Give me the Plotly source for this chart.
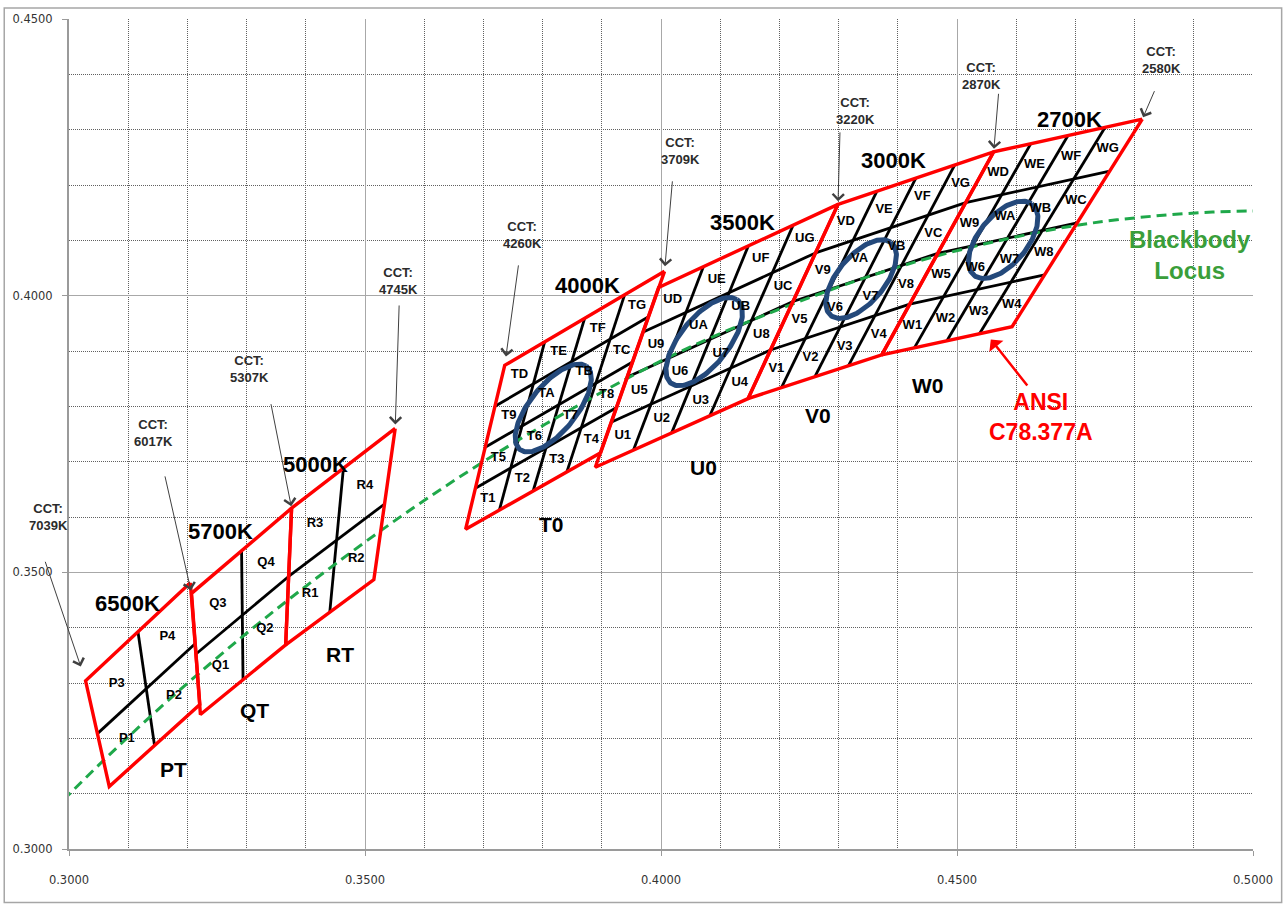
import numpy as np
import plotly.graph_objects as go

# ANSI C78.377A nominal CCT quadrangles, corners in order TR, TL, BL, BR
QUAD_CCT = ["2700K", "3000K", "3500K", "4000K", "5000K", "5700K", "6500K"]
QUAD_GROUP = ["W0", "V0", "U0", "T0", "RT", "QT", "PT"]
QUAD_PREFIX = ["W", "V", "U", "T", "R", "Q", "P"]
QUAD_X = [
    [0.4813, 0.4562, 0.4373, 0.4593],
    [0.4562, 0.4299, 0.4147, 0.4373],
    [0.4299, 0.3996, 0.3889, 0.4147],
    [0.4006, 0.3736, 0.3670, 0.3898],
    [0.3551, 0.3376, 0.3366, 0.3515],
    [0.3376, 0.3207, 0.3222, 0.3366],
    [0.3205, 0.3028, 0.3068, 0.3221],
]
QUAD_Y = [
    [0.4319, 0.4260, 0.3893, 0.3944],
    [0.4260, 0.4165, 0.3814, 0.3893],
    [0.4165, 0.4015, 0.3690, 0.3814],
    [0.4044, 0.3874, 0.3578, 0.3716],
    [0.3760, 0.3616, 0.3369, 0.3487],
    [0.3616, 0.3462, 0.3243, 0.3369],
    [0.3481, 0.3304, 0.3113, 0.3261],
]
QUAD_DIV = [4, 4, 4, 4, 2, 2, 2]
BIN_CODES = {
    4: ["1", "2", "3", "4", "5", "6", "7", "8", "9", "A", "B", "C", "D", "E", "F", "G"],
    2: ["1", "2", "3", "4"],
}

# 1-step MacAdam ellipses at the ANSI centre points
ELL_CCT = ["2700K", "3000K", "3500K", "4000K"]
ELL_X = [0.4578, 0.4338, 0.4073, 0.3818]
ELL_Y = [0.4101, 0.4030, 0.3917, 0.3797]
ELL_A = [0.00270, 0.00278, 0.00313, 0.00313]
ELL_B = [0.00140, 0.00136, 0.00139, 0.00134]
ELL_THETA = [53.70, 53.22, 54.00, 53.72]
MACADAM_STEPS = 3

# Planckian (blackbody) locus, CIE 1931 xy
LOCUS_CCT = [8000, 7500, 7000, 6500, 6000, 5500, 5000, 4500, 4000, 3500, 3000, 2700, 2500, 2200, 2000]
LOCUS_X = [0.2952, 0.3004, 0.3064, 0.3135, 0.3220, 0.3323, 0.3451, 0.3607, 0.3805,
           0.4053, 0.4369, 0.4599, 0.4770, 0.5018, 0.5267]
LOCUS_Y = [0.3048, 0.3103, 0.3166, 0.3237, 0.3318, 0.3410, 0.3516, 0.3635, 0.3768,
           0.3909, 0.4041, 0.4106, 0.4137, 0.4153, 0.4133]

# CCT of the quadrangle corners: (label, quad index, corner index)
CCT_POINTS = [
    ("7039K", 6, 1), ("6017K", 5, 1), ("5307K", 4, 1), ("4745K", 4, 0),
    ("4260K", 3, 1), ("3709K", 3, 0), ("3220K", 1, 1), ("2870K", 0, 1), ("2580K", 0, 0),
]

# ---- placement of annotations (pixel offsets / label anchors) ----
CCT_TEXT_OFFSET = [(-37, -164), (-38, -160), (-42, -139), (3, -147), (18, -130),
                   (16, -120), (17, -93), (-12, -76), (19, -59)]
CCT_TAIL_OFFSET = [(-41, -121), (-27, -119), (-21, -106), (4, -125), (14, -102),
                   (8, -92), (2, -74), (5, -60), (13, -30)]
CCT_STANDOFF = [15, 3, 2, 4, 9, 5, 3, 3, 2]
CCT_LABEL_POS = [(0.46907, 0.43182), (0.43919, 0.42445), (0.41371, 0.41330), (0.38755, 0.40180),
                 (0.34164, 0.36943), (0.32560, 0.35739), (0.30991, 0.34445)]
GROUP_LABEL_POS = [(0.44509, 0.38382), (0.42653, 0.37843), (0.40712, 0.36890), (0.38147, 0.35865),
                   (0.34586, 0.33511), (0.33134, 0.32504), (0.31767, 0.31443)]

FONT = "Arial, Liberation Sans, sans-serif"


def quad_point(q, u, v):
    """Bilinear point inside quadrangle q; u runs BL->BR, v runs BL->TL."""
    tr, tl, bl, br = range(4)
    xs, ys = QUAD_X[q], QUAD_Y[q]
    w = {bl: (1 - u) * (1 - v), br: u * (1 - v), tr: u * v, tl: (1 - u) * v}
    return (sum(w[k] * xs[k] for k in w), sum(w[k] * ys[k] for k in w))


fig = go.Figure()

# black sub-bin grid
gx, gy = [], []
for q, n in enumerate(QUAD_DIV):
    for k in range(1, n):
        f = k / n
        for p in (quad_point(q, f, 0), quad_point(q, f, 1), (None, None)):
            gx.append(p[0]); gy.append(p[1])
        for p in (quad_point(q, 0, f), quad_point(q, 1, f), (None, None)):
            gx.append(p[0]); gy.append(p[1])
fig.add_trace(go.Scatter(x=gx, y=gy, mode="lines", line=dict(color="black", width=2.8),
                         hoverinfo="skip", showlegend=False))

# blackbody locus
fig.add_trace(go.Scatter(x=LOCUS_X, y=LOCUS_Y, mode="lines",
                         line=dict(color="#1fa84a", width=3, dash="10px,6px", shape="spline"),
                         hoverinfo="skip", showlegend=False))

# ANSI quadrangles
rx, ry = [], []
for q in range(len(QUAD_X)):
    rx += QUAD_X[q] + [QUAD_X[q][0], None]
    ry += QUAD_Y[q] + [QUAD_Y[q][0], None]
fig.add_trace(go.Scatter(x=rx, y=ry, mode="lines", line=dict(color="#ff0000", width=3.4),
                         hoverinfo="skip", showlegend=False))

# MacAdam ellipses
t = np.linspace(0, 2 * np.pi, 181)
ex, ey = [], []
for cx, cy, a, b, th in zip(ELL_X, ELL_Y, ELL_A, ELL_B, ELL_THETA):
    A, B, r = a * MACADAM_STEPS, b * MACADAM_STEPS, np.radians(th)
    ex += list(cx + A * np.cos(t) * np.cos(r) - B * np.sin(t) * np.sin(r)) + [None]
    ey += list(cy + A * np.cos(t) * np.sin(r) + B * np.sin(t) * np.cos(r)) + [None]
fig.add_trace(go.Scatter(x=ex, y=ey, mode="lines", line=dict(color="#24497b", width=5),
                         hoverinfo="skip", showlegend=False))

# sub-bin codes at cell centres
lx, ly, lt = [], [], []
for q, n in enumerate(QUAD_DIV):
    codes = BIN_CODES[n]
    for j in range(n):
        for i in range(n):
            p = quad_point(q, (i + 0.5) / n, (j + 0.5) / n)
            lx.append(p[0]); ly.append(p[1]); lt.append(QUAD_PREFIX[q] + codes[j * n + i])
fig.add_trace(go.Scatter(x=lx, y=ly, mode="text", text=lt,
                         textfont=dict(family=FONT, size=13, color="black", weight="bold"),
                         hoverinfo="skip", showlegend=False))

ann = []
for name, (px, py) in zip(QUAD_CCT, CCT_LABEL_POS):
    ann.append(dict(x=px, y=py, text=name, showarrow=False,
                    font=dict(family=FONT, size=22, color="black", weight="bold")))
for name, (px, py) in zip(QUAD_GROUP, GROUP_LABEL_POS):
    ann.append(dict(x=px, y=py, text=name, showarrow=False,
                    font=dict(family=FONT, size=21, color="black", weight="bold")))

for (lab, q, c), (tx, ty), (ax, ay), so in zip(CCT_POINTS, CCT_TEXT_OFFSET, CCT_TAIL_OFFSET, CCT_STANDOFF):
    cx, cy = QUAD_X[q][c], QUAD_Y[q][c]
    ann.append(dict(x=cx, y=cy, text="CCT:<br>" + lab, showarrow=False, xshift=tx, yshift=-ty,
                    font=dict(family=FONT, size=13, color="#2b2b2b", weight="bold")))
    ann.append(dict(x=cx, y=cy, text=" ", showarrow=True, ax=ax, ay=ay, arrowhead=4,
                    arrowsize=2.2, arrowwidth=1, arrowcolor="#404040", standoff=so,
                    font=dict(size=1)))

ann.append(dict(x=0.48932, y=0.40737, text="Blackbody<br>Locus", showarrow=False,
                font=dict(family=FONT, size=24, color="#3a9e3a", weight="bold")))
ann.append(dict(x=0.46417, y=0.37808, text="ANSI<br>C78.377A", showarrow=False,
                font=dict(family=FONT, size=23, color="#ff0000", weight="bold")))
ann.append(dict(x=0.45571, y=0.39210, text=" ", showarrow=True, ax=38, ay=48, arrowhead=1,
                arrowsize=1.2, arrowwidth=2.5, arrowcolor="#ff0000", font=dict(size=1)))

axis_common = dict(
    dtick=0.05, tickformat=".4f", showgrid=True, gridcolor="#a8a8a8", gridwidth=1,
    minor=dict(dtick=0.01, showgrid=True, gridcolor="#606060", griddash="1px,1px", gridwidth=1),
    showline=True, linecolor="#9a9a9a", linewidth=2, ticks="outside", ticklen=5,
    tickcolor="#9a9a9a", zeroline=False,
    tickfont=dict(family="DejaVu Sans", size=11.5, color="#333333"),
)

fig.update_layout(
    width=1288, height=907,
    margin=dict(l=68, r=35, t=15, b=58, pad=0),
    paper_bgcolor="white", plot_bgcolor="white",
    xaxis=dict(range=[0.3, 0.5], tick0=0.3, ticklabelstandoff=14, **axis_common),
    yaxis=dict(range=[0.3, 0.45], tick0=0.3, ticklabelstandoff=7, **axis_common),
    annotations=ann,
    shapes=[dict(type="rect", xref="paper", yref="paper",
                 x0=-0.0547, x1=1.0242, y0=-0.0644, y1=1.0132,
                 line=dict(color="#a6a6a6", width=1.5), layer="below")],
    showlegend=False,
)

fig.write_html("out.html")
